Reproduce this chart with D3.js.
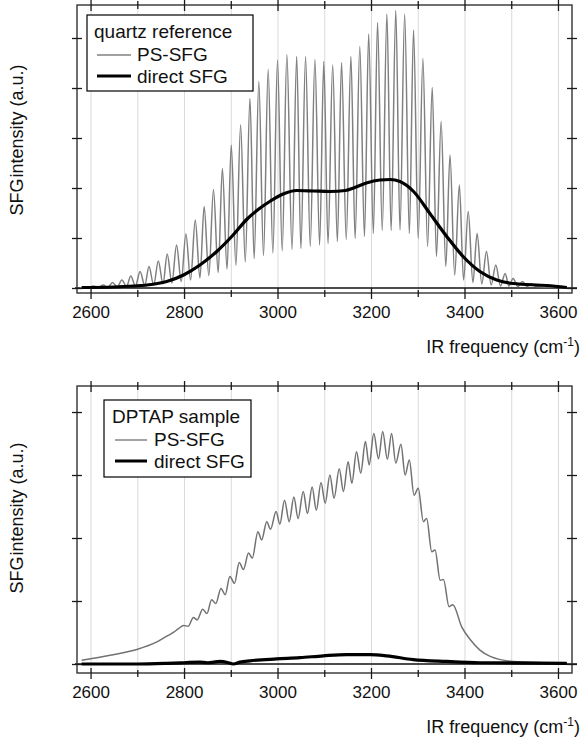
<!DOCTYPE html>
<meta charset="utf-8">
<style>
    body {
        margin: 0;
        background: #fff;
        font-family: "Liberation Sans", Arial, sans-serif;
    }

    .grid line { stroke: #dadada; stroke-width: 1; }
    .grid path { display: none; }
    .axis path { display: none; }
    .axis line { stroke: #1a1a1a; stroke-width: 1.3; }
    .axis text { font-size: 17px; fill: #111; font-family: "Liberation Sans", Arial, sans-serif; }
    .frame { fill: none; stroke: #333; stroke-width: 1.4; }
    .zero { stroke: #111; stroke-width: 1.4; }
    .ps { fill: none; stroke-width: 1.5; }
    .direct { fill: none; stroke: #000; stroke-width: 3.2; stroke-linejoin: round; }
    .legendBox { fill: #fff; stroke: #000; stroke-width: 1.2; }
    .legend text { font-size: 19px; fill: #111; }
    .title { font-size: 18px; fill: #111; }
</style>

<body>
    <svg width="582" height="750"></svg>

    <script src="https://d3js.org/d3.v7.min.js"></script>
    <script>
        // x axis ticks (cm-1)
        const freqMajor = [2600, 2800, 3000, 3200, 3400, 3600];
        const freqMinor = [2700, 2900, 3100, 3300, 3500];
        const freqGrid = [2600, 2700, 2800, 2900, 3000, 3100, 3200, 3300, 3400, 3500, 3600];

        // quartz reference, PS-SFG : peaks and troughs
        const quartzPS = [
            [2578, 0.00], [2596, 0.01],
            [2606, 0.04], [2616, 0.01], [2627, 0.06], [2637, 0.01], [2647, 0.11], [2657, 0.02],
            [2667, 0.16], [2677, 0.03], [2686, 0.24], [2696, 0.04], [2706, 0.33], [2716, 0.05],
            [2725, 0.43], [2735, 0.06], [2745, 0.54], [2755, 0.08], [2764, 0.68], [2774, 0.10],
            [2784, 0.86], [2794, 0.13], [2804, 1.08], [2814, 0.16], [2824, 1.36], [2834, 0.20],
            [2843, 1.63], [2853, 0.25], [2863, 1.97], [2873, 0.31], [2882, 2.39], [2892, 0.38],
            [2901, 2.86], [2911, 0.45], [2921, 3.26], [2931, 0.52], [2941, 3.79], [2950, 0.59],
            [2960, 4.13], [2970, 0.65], [2980, 4.37], [2990, 0.70], [3000, 4.56], [3010, 0.74],
            [3020, 4.67], [3031, 0.77], [3041, 4.63], [3050, 0.79], [3060, 4.63], [3070, 0.83],
            [3080, 4.57], [3090, 0.86], [3099, 4.53], [3108, 0.89], [3118, 4.46], [3128, 0.93],
            [3137, 4.51], [3147, 0.97], [3157, 4.63], [3166, 0.99], [3176, 4.83], [3186, 1.03],
            [3195, 5.08], [3205, 1.09], [3214, 5.31], [3224, 1.15], [3234, 5.48], [3243, 1.15],
            [3253, 5.55], [3262, 1.16], [3272, 5.48], [3282, 1.09], [3291, 5.16], [3301, 0.99],
            [3311, 4.59], [3321, 0.83], [3331, 4.01], [3340, 0.63], [3350, 3.33], [3360, 0.43],
            [3369, 2.66], [3379, 0.26], [3389, 2.06], [3398, 0.16], [3408, 1.53], [3418, 0.11],
            [3427, 1.09], [3437, 0.08], [3447, 0.73], [3457, 0.06], [3467, 0.46], [3477, 0.04],
            [3487, 0.29], [3495, 0.04], [3504, 0.19], [3514, 0.03], [3524, 0.13], [3534, 0.03],
            [3543, 0.08], [3553, 0.03], [3580, 0.02], [3620, 0.01]
        ];

        // quartz reference, direct SFG
        const quartzDirect = [
            [2581, 0.01], [2650, 0.02], [2692, 0.04], [2730, 0.07], [2763, 0.13], [2799, 0.26],
            [2834, 0.46], [2870, 0.73], [2905, 1.06], [2935, 1.38], [2960, 1.58], [2985, 1.74],
            [3012, 1.88], [3041, 1.95], [3077, 1.94], [3112, 1.93], [3145, 1.95], [3165, 2.01],
            [3190, 2.10], [3219, 2.16], [3241, 2.17], [3262, 2.13], [3291, 1.93], [3326, 1.49],
            [3362, 1.03], [3397, 0.63], [3433, 0.33], [3469, 0.16], [3504, 0.09], [3576, 0.05],
            [3619, 0.01]
        ];

        // DPTAP sample, PS-SFG
        const dptapPS = [
            [2581, 0.06], [2642, 0.14], [2699, 0.23], [2742, 0.35], [2765, 0.45], [2777, 0.50],
            [2788, 0.56], [2799, 0.61], [2809, 0.60], [2820, 0.74], [2828, 0.70], [2840, 0.87],
            [2849, 0.80], [2859, 1.02], [2868, 0.96], [2879, 1.20], [2888, 1.10], [2898, 1.39],
            [2908, 1.28], [2918, 1.61], [2927, 1.50], [2938, 1.76], [2946, 1.68], [2958, 2.10],
            [2966, 1.97], [2977, 2.26], [2985, 2.14], [2997, 2.42], [3005, 2.22], [3015, 2.60],
            [3025, 2.26], [3035, 2.65], [3044, 2.31], [3055, 2.74], [3064, 2.39], [3074, 2.81],
            [3083, 2.44], [3093, 2.88], [3102, 2.55], [3112, 3.00], [3121, 2.63], [3132, 3.10],
            [3141, 2.74], [3151, 3.21], [3159, 2.87], [3169, 3.37], [3178, 3.03], [3188, 3.53],
            [3196, 3.16], [3206, 3.66], [3216, 3.26], [3225, 3.69], [3235, 3.25], [3244, 3.66],
            [3253, 3.19], [3264, 3.49], [3273, 3.00], [3282, 3.24], [3292, 2.68], [3301, 2.79],
            [3312, 2.26], [3319, 2.31], [3330, 1.78], [3337, 1.81], [3348, 1.33], [3355, 1.34],
            [3367, 0.91], [3375, 0.94], [3394, 0.59], [3413, 0.38], [3433, 0.22], [3455, 0.12],
            [3504, 0.04], [3619, 0.01]
        ];

        // DPTAP sample, direct SFG
        const dptapDirect = [
            [2581, 0.00], [2700, 0.00], [2763, 0.01], [2800, 0.02], [2834, 0.03], [2850, 0.02],
            [2877, 0.04], [2895, 0.02], [2905, 0.00], [2920, 0.03], [2941, 0.05], [2998, 0.08],
            [3048, 0.10], [3098, 0.13], [3148, 0.15], [3198, 0.15], [3234, 0.13], [3290, 0.07],
            [3362, 0.04], [3433, 0.02], [3619, 0.01]
        ];

        const yTicksTop = [0, 1, 2, 3, 4, 5];
        const yTicksBottom = [0, 1, 2, 3, 4];

        const svg = d3.select("svg");
        const left = 77, right = 572;

        const x = d3.scaleLinear().domain([2571, 3630]).range([left, right]);

        function drawPanel(p) {
            const g = svg.append("g");
            const y = d3.scaleLinear().domain(p.yDomain).range([p.bottom, p.top]);

            // grid
            g.append("g")
                .attr("class", "grid")
                .attr("transform", `translate(0,${p.bottom})`)
                .call(d3.axisBottom(x).tickValues(freqGrid).tickSize(-(p.bottom - p.top)).tickFormat(""));

            // curves
            const line = d3.line()
                .x(d => x(d[0]))
                .y(d => y(d[1]))
                .curve(d3.curveMonotoneX);

            g.append("line")
                .attr("class", "zero")
                .attr("x1", left - 2).attr("x2", right + 5)
                .attr("y1", y(0)).attr("y2", y(0));

            g.append("path").datum(p.ps).attr("class", "ps").attr("stroke", p.psColor).attr("d", line);
            g.append("path").datum(p.direct).attr("class", "direct").attr("d", line);

            // frame
            g.append("rect")
                .attr("class", "frame")
                .attr("x", left).attr("y", p.top)
                .attr("width", right - left).attr("height", p.bottom - p.top);

            // bottom axis with labels
            g.append("g")
                .attr("class", "axis")
                .attr("transform", `translate(0,${p.bottom})`)
                .call(d3.axisBottom(x).tickValues(freqMajor).tickSize(6).tickPadding(7).tickFormat(d3.format("d")))
                .call(a => a.selectAll(".tick line").attr("y1", -5));
            g.append("g")
                .attr("class", "axis")
                .attr("transform", `translate(0,${p.bottom})`)
                .call(d3.axisBottom(x).tickValues(freqMinor).tickSize(4).tickFormat(""))
                .call(a => a.selectAll(".tick line").attr("y1", -3));

            // top mirror axis
            g.append("g")
                .attr("class", "axis")
                .attr("transform", `translate(0,${p.top})`)
                .call(d3.axisTop(x).tickValues(freqMajor).tickSize(5).tickFormat(""))
                .call(a => a.selectAll(".tick line").attr("y1", 6));
            g.append("g")
                .attr("class", "axis")
                .attr("transform", `translate(0,${p.top})`)
                .call(d3.axisTop(x).tickValues(freqMinor).tickSize(4).tickFormat(""))
                .call(a => a.selectAll(".tick line").attr("y1", 4));

            // left and right axes (no labels)
            g.append("g")
                .attr("class", "axis")
                .attr("transform", `translate(${left},0)`)
                .call(d3.axisLeft(y).tickValues(p.yTicks).tickSize(5).tickFormat(""))
                .call(a => a.selectAll(".tick line").attr("x1", 5));
            g.append("g")
                .attr("class", "axis")
                .attr("transform", `translate(${right},0)`)
                .call(d3.axisRight(y).tickValues(p.yTicks).tickSize(5).tickFormat(""))
                .call(a => a.selectAll(".tick line").attr("x1", -5));

            // axis titles
            const yt = g.append("text")
                .attr("class", "title")
                .attr("text-anchor", "middle")
                .attr("transform", `translate(23,${p.yLabelY}) rotate(-90)`);
            yt.append("tspan").text("SFG");
            yt.append("tspan").attr("dx", 1).text("intensity (a.u.)");

            const xt = g.append("text")
                .attr("class", "title")
                .attr("text-anchor", "end")
                .attr("x", 580)
                .attr("y", p.bottom + 60);
            xt.append("tspan").text("IR frequency (cm");
            xt.append("tspan").attr("dy", -7).style("font-size", "12px").text("-1");
            xt.append("tspan").attr("dy", 7).text(")");

            // legend
            const L = p.legend;
            const lg = g.append("g").attr("class", "legend");
            lg.append("rect")
                .attr("class", "legendBox")
                .attr("x", L.x).attr("y", L.y)
                .attr("width", L.w).attr("height", L.h);
            lg.append("text").attr("x", L.titleX).attr("y", L.y + 23).text(L.title);
            lg.append("line")
                .attr("x1", L.lineX).attr("x2", L.lineX + L.lineW)
                .attr("y1", L.y + 40).attr("y2", L.y + 40)
                .attr("stroke", p.psColor).attr("stroke-width", 1.3);
            lg.append("text").attr("x", L.textX).attr("y", L.y + 46).text("PS-SFG");
            lg.append("line")
                .attr("x1", L.lineX).attr("x2", L.lineX + L.lineW)
                .attr("y1", L.y + 61).attr("y2", L.y + 61)
                .attr("stroke", "#000").attr("stroke-width", 3);
            lg.append("text").attr("x", L.textX).attr("y", L.y + 68).text("direct SFG");
        }

        drawPanel({
            top: 5, bottom: 293, yDomain: [-0.1, 5.66], yTicks: yTicksTop,
            ps: quartzPS, direct: quartzDirect, psColor: "#808080", yLabelY: 140,
            legend: { x: 87, y: 15, w: 166, h: 76, title: "quartz reference", titleX: 94, lineX: 97, lineW: 34, textX: 137 }
        });

        drawPanel({
            top: 386, bottom: 673, yDomain: [-0.143, 4.413], yTicks: yTicksBottom,
            ps: dptapPS, direct: dptapDirect, psColor: "#727272", yLabelY: 518,
            legend: { x: 104, y: 400, w: 147, h: 77, title: "DPTAP sample", titleX: 112, lineX: 115, lineW: 32, textX: 154 }
        });
    </script>
</body>
